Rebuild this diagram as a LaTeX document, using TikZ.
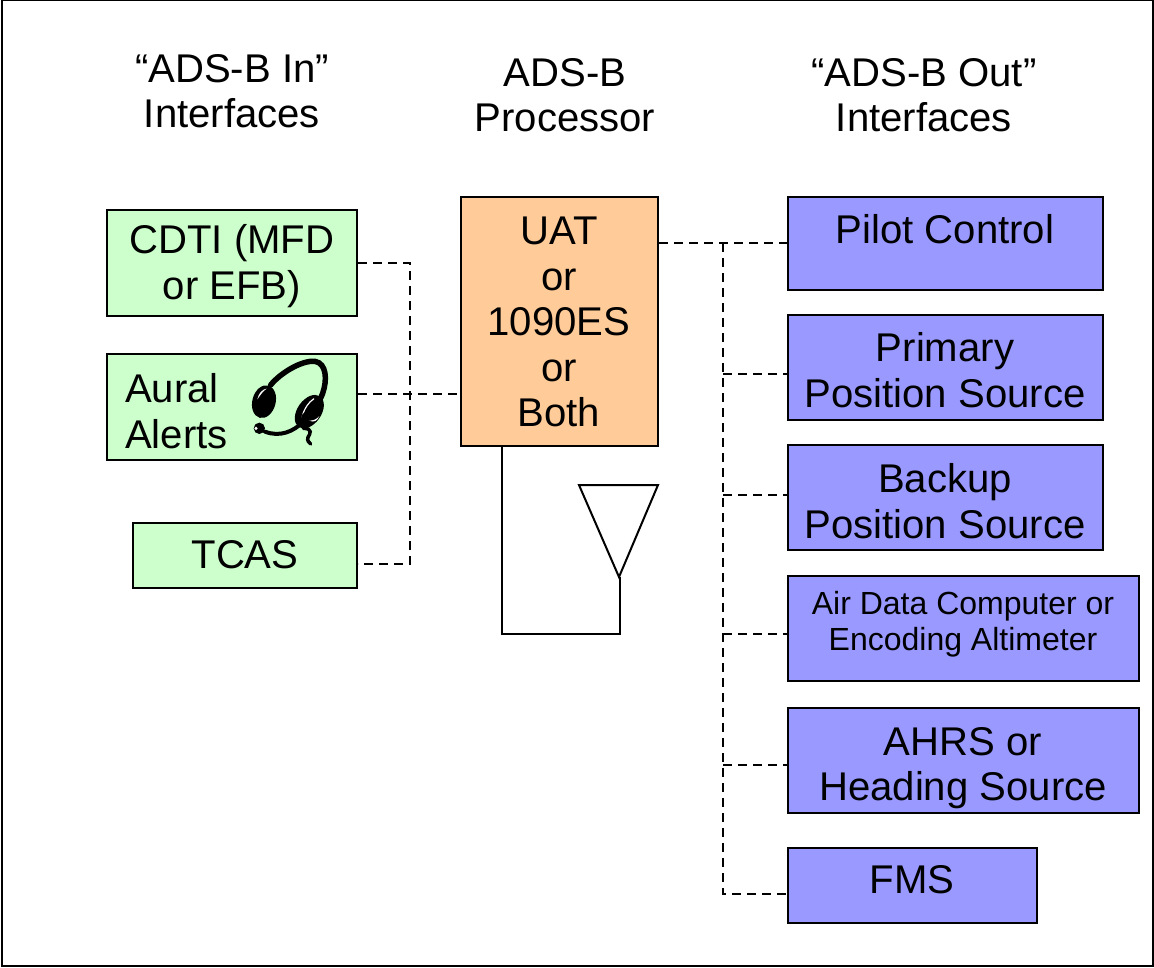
\documentclass[tikz,border=0pt]{standalone}
\usepackage{fontspec}
\setmainfont{Liberation Sans}
\definecolor{ingreen}{HTML}{CCFFCC}
\definecolor{procorange}{HTML}{FFCC99}
\definecolor{outviolet}{HTML}{9999FF}
\tikzset{
  box/.style={draw=black,line width=2pt,inner sep=0pt,anchor=north west,xshift=-1pt,yshift=1pt},
  inbox/.style={box,fill=ingreen},
  procbox/.style={box,fill=procorange},
  outbox/.style={box,fill=outviolet},
  big/.style={inner sep=0pt,align=center,font=\fontsize{40.1}{45.5}\selectfont},
  small/.style={inner sep=0pt,align=center,font=\fontsize{32}{36}\selectfont},
  link/.style={line width=1.6pt,dash pattern=on 9pt off 6pt},
  wire/.style={line width=2pt,line join=miter},
}
\begin{document}
\begin{tikzpicture}[x=1pt,y=-1pt]
\useasboundingbox (0,0) rectangle (1154,967);
\draw[line width=2pt] (2,0) -- (2,966) -- (1153,966) -- (1153,0) -- cycle;
% boxes
\node[inbox,minimum width=250pt,minimum height=106pt] (cdti) at (107,210) {};
\node[inbox,minimum width=250pt,minimum height=106pt] (aural) at (107,354) {};
\node[inbox,minimum width=224pt,minimum height=65pt] (tcas) at (133,523) {};
\node[procbox,minimum width=197pt,minimum height=249pt] (proc) at (461,197) {};
\node[outbox,minimum width=315pt,minimum height=93pt] (pilot) at (788,197) {};
\node[outbox,minimum width=315pt,minimum height=105pt] (primary) at (788,315) {};
\node[outbox,minimum width=315pt,minimum height=105pt] (backup) at (788,445) {};
\node[outbox,minimum width=351pt,minimum height=105pt] (air) at (788,576) {};
\node[outbox,minimum width=351pt,minimum height=105pt] (ahrs) at (788,708) {};
\node[outbox,minimum width=249pt,minimum height=75pt] (fms) at (788,848) {};
% headings
\node[big] (hin) at (232,91) {“ADS-B In”\\Interfaces};
\node[big] (hproc) at (565,95) {ADS-B\\Processor};
\node[big] (hout) at (924,95) {“ADS-B Out”\\Interfaces};
% labels
\node[big] (tcdti) at (232,266) {CDTI (MFD\\or EFB)};
\node[big,align=left,anchor=west] (taural) at (125,411) {Aural\\Alerts};
\node[big] (ttcas) at (245,555) {TCAS};
\node[big] (tproc) at (559,322) {UAT\\or\\1090ES\\or\\Both};
\node[big] (tpilot) at (945,229) {Pilot Control};
\node[big] (tprimary) at (945,370) {Primary\\Position Source};
\node[big] (tbackup) at (945,501) {Backup\\Position Source};
\node[small] (tair) at (963,624) {Air Data Computer or\\Encoding Altimeter};
\node[big] (tahrs) at (963,768) {AHRS or\\Heading Source};
\node[big] (tfms) at (912,880) {FMS};
% dashed links, in side
\coordinate (bus1) at (410,263);
\coordinate (bus2) at (410,564);
\coordinate (busm) at (723,243);
\draw[link] (cdti.east |- bus1) -- (bus1) -- (bus2) -- (tcas.east |- bus2);
\draw[link] (aural.east |- 0,394) -- (proc.west |- 0,394);
% dashed links, out side
\draw[link] (proc.east |- busm) -- (pilot.west |- busm);
\coordinate (t2) at (723,374);
\coordinate (t3) at (723,495);
\coordinate (t4) at (723,634);
\coordinate (t5) at (723,765);
\coordinate (t6) at (723,894);
\draw[link] (busm) -- (t6) -- (fms.west |- t6);
\draw[link] (t2) -- (primary.west |- t2);
\draw[link] (t3) -- (backup.west |- t3);
\draw[link] (t4) -- (air.west |- t4);
\draw[link] (t5) -- (ahrs.west |- t5);
% antenna
\coordinate (apex) at (619,577);
\coordinate (wire1) at (502,634);
\coordinate (wire2) at (620,634);
\draw[wire] (apex) -- (579,485) -- (658,485) -- cycle;
\draw[wire] (proc.south west -| wire1) -- (wire1) -- (wire2) -- (wire2 |- apex);
% headset
\begin{scope}[shift={(230,360)},x=0.3333pt,y=-0.3333pt]
  \fill (102,125) ellipse [x radius=35,y radius=50,rotate=-15];
  \fill[white] (82,118) .. controls (86,100) and (96,88) .. (110,86) .. controls (100,92) and (92,104) .. (82,118) -- cycle;
  \fill (238,155) ellipse [x radius=36,y radius=56,rotate=-35];
  \draw[white,line width=1.2pt] (216,172) .. controls (222,145) and (238,125) .. (252,116);
  \fill[white] (238,182) .. controls (250,182) and (260,178) .. (268,168) .. controls (262,184) and (250,188) .. (238,182) -- cycle;
  \draw[line width=5.5pt,line cap=round] (122,75) .. controls (150,40) and (215,0) .. (255,4)
     .. controls (290,10) and (292,60) .. (278,100) .. controls (268,130) and (245,150) .. (222,170);
  \draw[line width=4pt,line cap=round] (220,185) .. controls (190,215) and (150,232) .. (105,215);
  \fill (88,205) circle [radius=17];
  \fill[white] (78,205) circle [radius=5];
  \draw[line width=3.5pt,line cap=round] (220,205) .. controls (250,205) and (240,222) .. (234,232) .. controls (230,242) and (238,248) .. (242,252);
\end{scope}
\end{tikzpicture}
\end{document}
